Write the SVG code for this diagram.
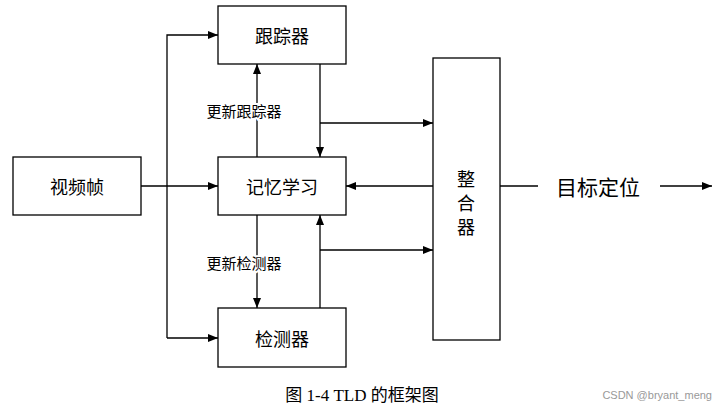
<svg xmlns="http://www.w3.org/2000/svg" width="721" height="409" viewBox="0 0 721 409">
<style>
.b{fill:#fff;stroke:#000;stroke-width:1.3}
.t{font-family:"Noto Sans CJK SC",sans-serif;font-size:18px;text-anchor:middle;dominant-baseline:central}
.s{font-family:"Noto Sans CJK SC",sans-serif;font-size:15px;text-anchor:middle;dominant-baseline:central}
.l{fill:none;stroke:#000;stroke-width:1.3}
</style>
<defs><marker id="a" markerWidth="10" markerHeight="8" refX="10" refY="4" orient="auto" markerUnits="userSpaceOnUse"><path d="M0,0L10,4L0,8z"/></marker></defs>
<rect width="721" height="409" fill="#fff"/>
<g id="n1"><rect class="b" x="13" y="157" width="128" height="58"/><text class="t" x="77" y="186">视频帧</text></g>
<g id="n2"><rect class="b" x="218" y="6" width="128" height="58"/><text class="t" x="282" y="35">跟踪器</text></g>
<g id="n3"><rect class="b" x="218" y="157" width="128" height="58"/><text class="t" x="282" y="186">记忆学习</text></g>
<g id="n4"><rect class="b" x="218" y="308" width="128" height="59"/><text class="t" x="282" y="338">检测器</text></g>
<g id="n5"><rect class="b" x="433" y="58" width="67" height="282"/><text class="t" x="466" y="178">整</text><text class="t" x="466" y="202">合</text><text class="t" x="466" y="226">器</text></g>
<g id="conn">
<path class="l" d="M141,186H218" marker-end="url(#a)"/>
<path class="l" d="M167,338V35H218" marker-end="url(#a)"/>
<path class="l" d="M167,338H218" marker-end="url(#a)"/>
<path class="l" d="M257,157V64" marker-end="url(#a)"/>
<path class="l" d="M320,64V157" marker-end="url(#a)"/>
<path class="l" d="M320,123H433" marker-end="url(#a)"/>
<path class="l" d="M433,186H346" marker-end="url(#a)"/>
<path class="l" d="M257,215V308" marker-end="url(#a)"/>
<path class="l" d="M320,308V215" marker-end="url(#a)"/>
<path class="l" d="M320,250H433" marker-end="url(#a)"/>
<path class="l" d="M500,186H538"/>
<path class="l" d="M660,186H712" marker-end="url(#a)"/>
</g>
<text class="s" x="244" y="110" style="paint-order:stroke;stroke:#fff;stroke-width:4">更新跟踪器</text>
<text class="s" x="244" y="262" style="paint-order:stroke;stroke:#fff;stroke-width:4">更新检测器</text>
<text class="t" x="598" y="186" style="font-size:21px">目标定位</text>
<text x="362" y="395" style="font-family:'Liberation Serif','Noto Sans CJK SC',serif;font-size:17px;text-anchor:middle;dominant-baseline:central">图 1-4 TLD 的框架图</text>
<text x="712" y="395" style="font-family:'Liberation Sans',sans-serif;font-size:11px;text-anchor:end;dominant-baseline:central;fill:#999">CSDN @bryant_meng</text>
</svg>
